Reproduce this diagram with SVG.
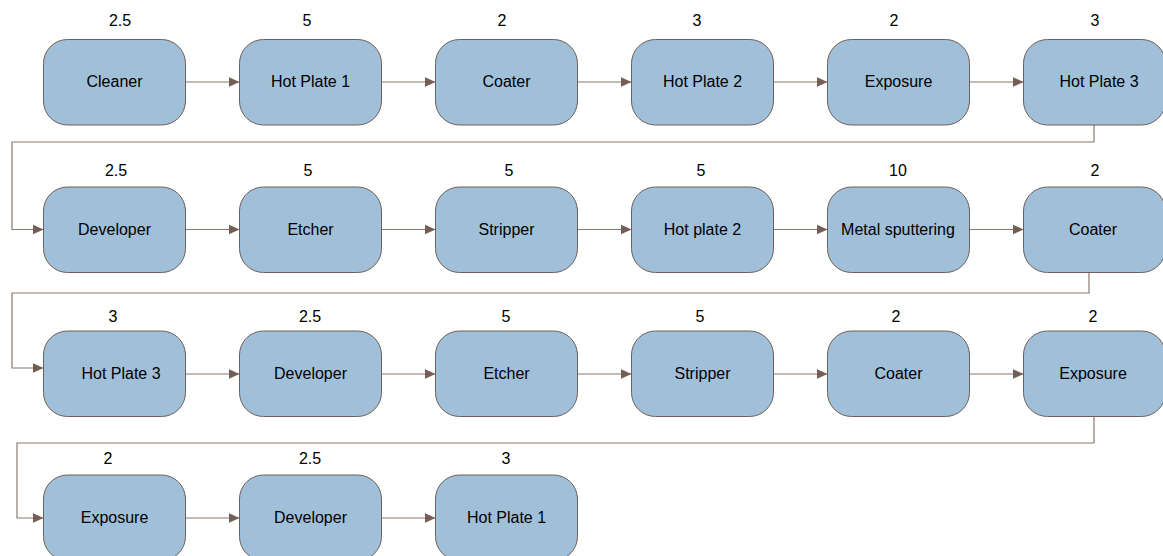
<svg xmlns="http://www.w3.org/2000/svg" width="1163" height="556" viewBox="0 0 1163 556">
  <style>
    .box { fill: #a0bfd9; stroke: #6e5f58; stroke-width: 1; }
    .lbl { font-family: "Liberation Sans", Arial, sans-serif; font-size: 16px; fill: #000; text-anchor: middle; }
    .num { font-family: "Liberation Sans", Arial, sans-serif; font-size: 16px; fill: #000; text-anchor: middle; }
    .link { fill: none; stroke: #8a7870; stroke-width: 1.2; marker-end: url(#arrow); }
  </style>
  <defs>
    <marker id="arrow" viewBox="0 0 11 10" refX="11" refY="5" markerWidth="11" markerHeight="10" markerUnits="userSpaceOnUse" orient="auto">
      <path d="M0,0 L11,5 L0,10 Z" fill="#735e54"/>
    </marker>
  </defs>
  <rect width="1163" height="556" fill="#ffffff"/>

  <!-- connectors -->
  <g id="connectors">
    <!-- row 1 -->
    <path class="link" d="M185.5,82 H239.5"/>
    <path class="link" d="M381.5,82 H435.5"/>
    <path class="link" d="M577.5,82 H631.5"/>
    <path class="link" d="M773.5,82 H827.5"/>
    <path class="link" d="M969.5,82 H1023.5"/>
    <path class="link" d="M1094,125 V142 H12 V229.5 H43.5"/>
    <!-- row 2 -->
    <path class="link" d="M185.5,229.5 H239.5"/>
    <path class="link" d="M381.5,229.5 H435.5"/>
    <path class="link" d="M577.5,229.5 H631.5"/>
    <path class="link" d="M773.5,229.5 H827.5"/>
    <path class="link" d="M969.5,229.5 H1023.5"/>
    <path class="link" d="M1089,266 V293 H12 V368 H43.5"/>
    <!-- row 3 -->
    <path class="link" d="M185.5,374 H239.5"/>
    <path class="link" d="M381.5,374 H435.5"/>
    <path class="link" d="M577.5,374 H631.5"/>
    <path class="link" d="M773.5,374 H827.5"/>
    <path class="link" d="M969.5,374 H1023.5"/>
    <path class="link" d="M1094,416 V443 H17 V518 H43.5"/>
    <!-- row 4 -->
    <path class="link" d="M185.5,518 H239.5"/>
    <path class="link" d="M381.5,518 H435.5"/>
  </g>

  <!-- row 1 -->
  <g id="n1"><rect class="box" x="43.5" y="39.5" width="142" height="85.5" rx="24"/><text class="lbl" x="114.5" y="87">Cleaner</text><text class="num" x="120" y="25.5">2.5</text></g>
  <g id="n2"><rect class="box" x="239.5" y="39.5" width="142" height="85.5" rx="24"/><text class="lbl" x="310.5" y="87">Hot Plate 1</text><text class="num" x="307" y="25.5">5</text></g>
  <g id="n3"><rect class="box" x="435.5" y="39.5" width="142" height="85.5" rx="24"/><text class="lbl" x="506.5" y="87">Coater</text><text class="num" x="502" y="25.5">2</text></g>
  <g id="n4"><rect class="box" x="631.5" y="39.5" width="142" height="85.5" rx="24"/><text class="lbl" x="702.5" y="87">Hot Plate 2</text><text class="num" x="697" y="25.5">3</text></g>
  <g id="n5"><rect class="box" x="827.5" y="39.5" width="142" height="85.5" rx="24"/><text class="lbl" x="898.5" y="87">Exposure</text><text class="num" x="894" y="25.5">2</text></g>
  <g id="n6"><rect class="box" x="1023.5" y="39.5" width="142" height="85.5" rx="24"/><text class="lbl" x="1099" y="87">Hot Plate 3</text><text class="num" x="1095" y="25.5">3</text></g>

  <!-- row 2 -->
  <g id="n7"><rect class="box" x="43.5" y="187" width="142" height="85.5" rx="24"/><text class="lbl" x="114.5" y="235">Developer</text><text class="num" x="116" y="175.5">2.5</text></g>
  <g id="n8"><rect class="box" x="239.5" y="187" width="142" height="85.5" rx="24"/><text class="lbl" x="310.5" y="235">Etcher</text><text class="num" x="308" y="175.5">5</text></g>
  <g id="n9"><rect class="box" x="435.5" y="187" width="142" height="85.5" rx="24"/><text class="lbl" x="506.5" y="235">Stripper</text><text class="num" x="509" y="175.5">5</text></g>
  <g id="n10"><rect class="box" x="631.5" y="187" width="142" height="85.5" rx="24"/><text class="lbl" x="702.5" y="235">Hot plate 2</text><text class="num" x="701" y="175.5">5</text></g>
  <g id="n11"><rect class="box" x="827.5" y="187" width="142" height="85.5" rx="24"/><text class="lbl" x="898" y="235">Metal sputtering</text><text class="num" x="898" y="175.5">10</text></g>
  <g id="n12"><rect class="box" x="1023.5" y="187" width="142" height="85.5" rx="24"/><text class="lbl" x="1093" y="235">Coater</text><text class="num" x="1095" y="175.5">2</text></g>

  <!-- row 3 -->
  <g id="n13"><rect class="box" x="43.5" y="331" width="142" height="85.5" rx="24"/><text class="lbl" x="121" y="379">Hot Plate 3</text><text class="num" x="113" y="321.5">3</text></g>
  <g id="n14"><rect class="box" x="239.5" y="331" width="142" height="85.5" rx="24"/><text class="lbl" x="310.5" y="379">Developer</text><text class="num" x="310" y="321.5">2.5</text></g>
  <g id="n15"><rect class="box" x="435.5" y="331" width="142" height="85.5" rx="24"/><text class="lbl" x="506.5" y="379">Etcher</text><text class="num" x="506" y="321.5">5</text></g>
  <g id="n16"><rect class="box" x="631.5" y="331" width="142" height="85.5" rx="24"/><text class="lbl" x="702.5" y="379">Stripper</text><text class="num" x="700" y="321.5">5</text></g>
  <g id="n17"><rect class="box" x="827.5" y="331" width="142" height="85.5" rx="24"/><text class="lbl" x="898.5" y="379">Coater</text><text class="num" x="896" y="321.5">2</text></g>
  <g id="n18"><rect class="box" x="1023.5" y="331" width="142" height="85.5" rx="24"/><text class="lbl" x="1093" y="379">Exposure</text><text class="num" x="1093" y="321.5">2</text></g>

  <!-- row 4 -->
  <g id="n19"><rect class="box" x="43.5" y="475" width="142" height="85.5" rx="24"/><text class="lbl" x="114.5" y="523">Exposure</text><text class="num" x="108" y="464">2</text></g>
  <g id="n20"><rect class="box" x="239.5" y="475" width="142" height="85.5" rx="24"/><text class="lbl" x="310.5" y="523">Developer</text><text class="num" x="310" y="464">2.5</text></g>
  <g id="n21"><rect class="box" x="435.5" y="475" width="142" height="85.5" rx="24"/><text class="lbl" x="506.5" y="523">Hot Plate 1</text><text class="num" x="506" y="464">3</text></g>
</svg>
